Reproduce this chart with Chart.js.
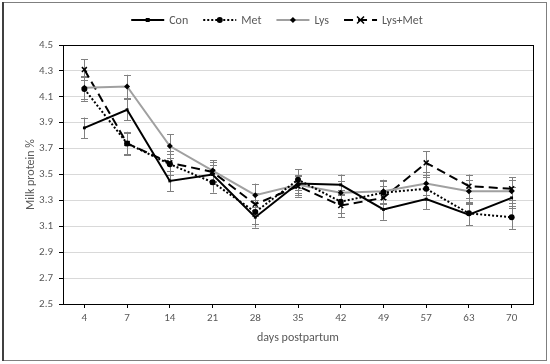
<!DOCTYPE html>
<html>
<head>
<meta charset="utf-8">
<script src="https://cdn.jsdelivr.net/npm/chart.js@4.4.0/dist/chart.umd.min.js"></script>
<style>
  body { margin: 0; background: #fff; }
</style>
</head>
<body>
<canvas id="chart" width="550" height="364"></canvas>
<script>
// days postpartum
const days = ['4', '7', '14', '21', '28', '35', '42', '49', '57', '63', '70'];

// milk protein % per treatment
const con    = [3.86, 4.00, 3.45, 3.50, 3.17, 3.43, 3.42, 3.23, 3.31, 3.19, 3.32];
const met    = [4.16, 3.74, 3.58, 3.44, 3.21, 3.46, 3.29, 3.36, 3.39, 3.20, 3.17];
const lys    = [4.17, 4.18, 3.72, 3.53, 3.34, 3.42, 3.36, 3.37, 3.43, 3.37, 3.37];
const lysMet = [4.31, 3.74, 3.59, 3.52, 3.27, 3.41, 3.26, 3.32, 3.59, 3.41, 3.39];

// standard errors (half-length of the error bars)
const conErr    = [0.08, 0.08, 0.08, 0.07, 0.08, 0.07, 0.08, 0.08, 0.08, 0.08, 0.08];
const metErr    = [0.09, 0.09, 0.08, 0.08, 0.09, 0.08, 0.09, 0.09, 0.09, 0.09, 0.09];
const lysErr    = [0.09, 0.09, 0.09, 0.08, 0.09, 0.08, 0.09, 0.09, 0.09, 0.09, 0.09];
const lysMetErr = [0.08, 0.08, 0.09, 0.08, 0.09, 0.08, 0.09, 0.09, 0.09, 0.09, 0.09];

const FONT = 'Carlito, Lato, "Open Sans", sans-serif';
const TEXT = '#595959';

// white background + outer frame
const framePlugin = {
    id: 'frame',
    beforeDraw(chart) {
        const ctx = chart.ctx;
        ctx.save();
        ctx.fillStyle = '#fff';
        ctx.fillRect(0, 0, chart.width, chart.height);
        ctx.strokeStyle = '#7f7f7f';
        ctx.lineWidth = 1;
        ctx.strokeRect(2.5, 2.5, 544, 358);
        ctx.strokeStyle = '#404040';
        ctx.lineWidth = 2;
        ctx.beginPath();
        ctx.moveTo(3, 2);
        ctx.lineTo(3, 361);
        ctx.stroke();
        ctx.restore();
    },
    afterDatasetsDraw(chart) {
        const a = chart.chartArea;
        const ctx = chart.ctx;
        ctx.save();
        ctx.strokeStyle = '#000';
        ctx.lineWidth = 1;
        ctx.strokeRect(Math.round(a.left) + 0.5, Math.round(a.top) + 0.5,
            Math.round(a.right - a.left), Math.round(a.bottom - a.top));
        ctx.restore();
    }
};

// gray error bars with caps
const errorBarPlugin = {
    id: 'errorBars',
    beforeDatasetsDraw(chart) {
        const ctx = chart.ctx;
        const yScale = chart.scales.y;
        ctx.save();
        ctx.strokeStyle = '#808080';
        ctx.lineWidth = 1;
        chart.data.datasets.forEach((ds, di) => {
            const meta = chart.getDatasetMeta(di);
            meta.data.forEach((pt, i) => {
                const v = ds.data[i];
                const e = ds.errors[i];
                const yTop = yScale.getPixelForValue(v + e);
                const yBot = yScale.getPixelForValue(v - e);
                const x = Math.round(pt.x) + 0.5;
                ctx.beginPath();
                ctx.moveTo(x, yTop);
                ctx.lineTo(x, yBot);
                ctx.moveTo(x - 3.5, Math.round(yTop) + 0.5);
                ctx.lineTo(x + 3.5, Math.round(yTop) + 0.5);
                ctx.moveTo(x - 3.5, Math.round(yBot) + 0.5);
                ctx.lineTo(x + 3.5, Math.round(yBot) + 0.5);
                ctx.stroke();
            });
        });
        ctx.restore();
    }
};

function drawMarker(ctx, style, r, x, y) {
    ctx.save();
    ctx.setLineDash([]);
    ctx.fillStyle = '#000';
    ctx.strokeStyle = '#000';
    ctx.lineWidth = 1.5;
    ctx.beginPath();
    if (style === 'circle') {
        ctx.arc(x, y, r, 0, Math.PI * 2);
        ctx.fill();
    } else if (style === 'rect') {
        ctx.fillRect(x - r, y - r, r * 2, r * 2);
    } else if (style === 'rectRot') {
        ctx.moveTo(x, y - r);
        ctx.lineTo(x + r, y);
        ctx.lineTo(x, y + r);
        ctx.lineTo(x - r, y);
        ctx.closePath();
        ctx.fill();
    } else if (style === 'crossRot') {
        ctx.moveTo(x - r, y - r);
        ctx.lineTo(x + r, y + r);
        ctx.moveTo(x - r, y + r);
        ctx.lineTo(x + r, y - r);
        ctx.stroke();
    }
    ctx.restore();
}

// legend at the top: line sample with marker, then label
const legendPlugin = {
    id: 'lineLegend',
    afterDraw(chart) {
        const ctx = chart.ctx;
        const sample = 33, gap = 5, itemGap = 15, cy = 20;
        ctx.save();
        ctx.font = '12px ' + FONT;
        ctx.textBaseline = 'middle';
        const items = chart.data.datasets.map(ds => ({
            ds, w: sample + gap + ctx.measureText(ds.label).width
        }));
        const total = items.reduce((s, it) => s + it.w, 0) + itemGap * (items.length - 1);
        let x = 277 - total / 2;
        items.forEach(it => {
            const ds = it.ds;
            ctx.strokeStyle = ds.borderColor;
            ctx.lineWidth = ds.borderWidth;
            ctx.setLineDash(ds.borderDash || []);
            ctx.beginPath();
            ctx.moveTo(x, cy);
            ctx.lineTo(x + sample, cy);
            ctx.stroke();
            drawMarker(ctx, ds.pointStyle, ds.pointRadius, x + sample / 2, cy);
            ctx.fillStyle = TEXT;
            ctx.fillText(ds.label, x + sample + gap, cy + 0.5);
            x += it.w + itemGap;
        });
        ctx.restore();
    }
};

function series(label, data, errors, color, dash, style, radius) {
    return {
        label: label,
        data: data,
        errors: errors,
        borderColor: color,
        borderWidth: 2,
        borderDash: dash,
        pointStyle: style,
        pointRadius: radius,
        pointHoverRadius: radius,
        pointBackgroundColor: '#000',
        pointBorderColor: '#000',
        pointBorderWidth: style === 'crossRot' ? 1.5 : 0,
        tension: 0,
        fill: false
    };
}

new Chart(document.getElementById('chart'), {
    type: 'line',
    data: {
        labels: days,
        datasets: [
            series('Con', con, conErr, '#000', [], 'rect', 2),
            series('Met', met, metErr, '#000', [2, 2], 'circle', 3),
            series('Lys', lys, lysErr, '#a0a0a0', [], 'rectRot', 3),
            series('Lys+Met', lysMet, lysMetErr, '#000', [9, 5], 'crossRot', 3.5)
        ]
    },
    options: {
        responsive: false,
        animation: false,
        events: [],
        layout: { padding: { left: 20, right: 17, top: 45, bottom: 15 } },
        plugins: {
            legend: { display: false },
            tooltip: { enabled: false }
        },
        scales: {
            x: {
                type: 'category',
                offset: true,
                afterFit: s => { s.height = 45; },
                grid: {
                    offset: false,
                    drawOnChartArea: false,
                    tickLength: 4,
                    tickColor: '#000'
                },
                border: { color: '#000', width: 1 },
                ticks: { color: TEXT, font: { family: FONT, size: 11 }, padding: 4 },
                title: {
                    display: true,
                    text: 'days postpartum',
                    color: TEXT,
                    font: { family: FONT, size: 12 }
                }
            },
            y: {
                min: 2.5,
                max: 4.5,
                afterFit: s => { s.width = 43; },
                grid: { color: '#d9d9d9', lineWidth: 1, tickLength: 4, tickColor: '#000' },
                border: { color: '#000', width: 1 },
                ticks: {
                    stepSize: 0.2,
                    color: TEXT,
                    font: { family: FONT, size: 11 },
                    padding: 6,
                    callback: v => v.toFixed(1)
                },
                title: {
                    display: true,
                    text: 'Milk protein %',
                    color: TEXT,
                    font: { family: FONT, size: 12 }
                }
            }
        }
    },
    plugins: [framePlugin, errorBarPlugin, legendPlugin]
});
</script>
</body>
</html>
